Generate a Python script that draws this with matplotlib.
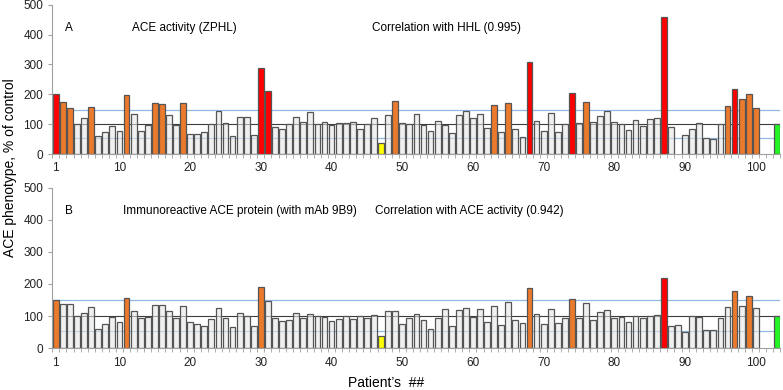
import numpy as np
import matplotlib.pyplot as plt

plt.rcParams['font.family'] = ['Liberation Sans', 'DejaVu Sans']

# Patient numbers 1..103 (103 = control), nan = no bar
patients = np.arange(1, 104)

activity_zphl = [
    200, 175, 154, 100, 122, 156, 59, 74, 94, 76,
    197, 134, 78, 96, 171, 169, 131, 96, 170, 66,
    66, 73, 100, 143, 103, 60, 123, 125, 64, 289,
    211, 89, 83, 102, 125, 108, 141, 102, 108, 96,
    103, 105, 106, 84, 99, 120, 36, 130, 179, 105,
    99, 133, 97, 76, 111, 97, 69, 130, 144, 121,
    133, 88, 165, 74, 170, 85, 58, 307, 109, 76,
    137, 73, 99, 203, 103, 174, 107, 127, 143, 106,
    101, 80, 113, 95, 116, 121, 460, 92, np.nan, 64,
    83, 104, 53, 50, 101, 162, 219, 183, 200, 153,
    np.nan, np.nan, 100]

protein_9b9 = [
    150, 139, 138, 100, 109, 129, 61, 75, 98, 81,
    156, 115, 94, 97, 134, 135, 116, 93, 131, 81,
    74, 68, 92, 126, 94, 67, 110, 101, 69, 192,
    146, 94, 84, 89, 109, 94, 106, 99, 98, 86,
    91, 100, 91, 101, 95, 103, 37, 115, 116, 76,
    95, 107, 88, 59, 94, 122, 70, 119, 125, 98,
    123, 82, 131, 72, 143, 88, 79, 189, 107, 75,
    122, 79, 95, 153, 94, 141, 87, 113, 118, 95,
    98, 82, 100, 93, 99, 103, 219, 70, 72, 50,
    99, 96, 57, 57, 94, 128, 177, 131, 164, 126,
    np.nan, np.nan, 100]

# highlighted patients
red_a = [1, 30, 31, 68, 74, 87, 97]
orange_a = [2, 3, 6, 11, 15, 16, 19, 49, 63, 65, 76, 96, 98, 99, 100]
red_b = [87]
orange_b = [1, 11, 30, 68, 74, 97, 99]
yellow_pt = [47]
control_pt = [103]

# reference levels (% of control)
ref_mid = 100
ref_low = 55
ref_high = 149

xtick_pos = [1, 10, 20, 30, 40, 50, 60, 70, 80, 90, 100]


def bar_colors(red, orange):
    cols = []
    for p in patients:
        if p in red:
            cols.append('#FF0000')
        elif p in orange:
            cols.append('#EC7A2C')
        elif p in yellow_pt:
            cols.append('#FFFF00')
        elif p in control_pt:
            cols.append('#22F522')
        else:
            cols.append((0.90, 0.90, 0.90, 0.6))
    return cols


def draw_panel(ax, values, red, orange, letter, title, corr, ytext):
    vals = np.array(values, dtype=float)
    mask = ~np.isnan(vals)
    cols = bar_colors(red, orange)
    cols = [c for c, m in zip(cols, mask) if m]
    ax.axhline(ref_mid, color='#3C3C3C', lw=0.8, zorder=1)
    ax.axhline(ref_high, color='#8FB8E4', lw=0.9, zorder=1)
    ax.axhline(ref_low, color='#8FB8E4', lw=0.9, zorder=1)
    ax.bar(patients[mask], vals[mask], width=0.82, color=cols,
           edgecolor='#555555', linewidth=0.9, zorder=2)

    ax.set_xlim(0.5, 103.5)
    ax.set_ylim(0, 500)
    ax.set_yticks(range(0, 501, 100))
    ax.set_xticks(xtick_pos)
    ax.set_xticks(np.arange(0.5, 104, 1), minor=True)
    ax.tick_params(axis='x', which='major', length=0, pad=6, labelsize=8.5,
                   labelcolor='#222222')
    ax.tick_params(axis='x', which='minor', length=3, color='#A0A0A0')
    ax.tick_params(axis='y', length=3, color='#A0A0A0', labelsize=8.5,
                   labelcolor='#222222')
    for s in ['top', 'right']:
        ax.spines[s].set_visible(False)
    for s in ['left', 'bottom']:
        ax.spines[s].set_color('#A0A0A0')
        ax.spines[s].set_linewidth(0.8)
    ax.patch.set_alpha(0)

    ax.text(2.3, ytext, letter, fontsize=8.5, va='center')
    ax.text(title[1], ytext, title[0], fontsize=8.5, va='center')
    ax.text(corr[1], ytext, corr[0], fontsize=8.5, va='center')


fig = plt.figure(figsize=(7.83, 3.9), dpi=100)
ax1 = fig.add_axes([0.0668, 0.605, 0.930, 0.383])
ax2 = fig.add_axes([0.0668, 0.107, 0.930, 0.412])

draw_panel(ax1, activity_zphl, red_a, orange_a, 'A',
           ('ACE activity (ZPHL)', 11.8),
           ('Correlation with HHL (0.995)', 45.7), 422)
draw_panel(ax2, protein_9b9, red_b, orange_b, 'B',
           ('Immunoreactive ACE protein (with mAb 9B9)', 10.5),
           ('Correlation with ACE activity (0.942)', 46.1), 427)

fig.text(0.013, 0.569, 'ACE phenotype, % of control', rotation=90,
         fontsize=10, ha='center', va='center')
fig.text(0.493, 0.017, 'Patient\u2019s  ##', fontsize=10,
         ha='center', va='center')

fig.savefig('out.png', dpi=100)
